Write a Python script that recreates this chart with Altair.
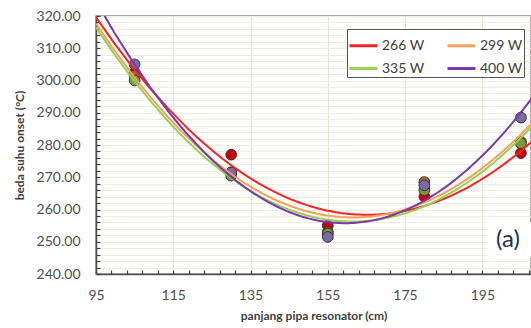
import altair as alt
import pandas as pd

# ---- data ----
x_vals = [105, 130, 155, 180, 205]
series_names = ["266 W", "299 W", "335 W", "400 W"]
y_266 = [302.5, 277.0, 255.0, 264.0, 277.5]
y_299 = [301.5, 271.5, 253.0, 268.5, 281.0]
y_335 = [300.0, 270.5, 252.5, 266.0, 280.5]
y_400 = [305.0, 271.5, 251.5, 267.5, 288.5]

line_colors = ["#f42424", "#f7a060", "#98d055", "#7a3aa8"]
point_colors = ["#cc0000", "#a86a3a", "#7a9a40", "#7d68a8"]

x_major = [95, 115, 135, 155, 175, 195]
x_minor = list(range(95, 208, 4))
y_grid = list(range(240, 321, 2))

rows = []
for name, ys in zip(series_names, [y_266, y_299, y_335, y_400]):
    for xv, yv in zip(x_vals, ys):
        rows.append({"series": name, "x": xv, "y": yv})
df = pd.DataFrame(rows)

FONT = "Lato"
xdom = [95, 207.6]
ydom = [240, 320]

xscale = alt.Scale(domain=xdom, nice=False, zero=False)
yscale = alt.Scale(domain=ydom, nice=False, zero=False)

base = alt.Chart(df)

points = base.mark_point(
    filled=True, size=115, opacity=1, stroke="#333333", strokeWidth=1, clip=True
).encode(
    x=alt.X("x:Q", scale=xscale, axis=alt.Axis(
        orient="bottom",
        values=x_major, grid=True, gridColor="#e7e3d3", gridWidth=1,
        ticks=False, labelPadding=14, labelFont=FONT, labelFontSize=14,
        labelColor="#505050", domainColor="#505050", domainWidth=1.5,
        title="panjang pipa resonator (cm)", titleFont=FONT, titleFontSize=12,
        titleFontWeight="bold", titleColor="#404040", titlePadding=8,
        labelFlush=False)),
    y=alt.Y("y:Q", scale=yscale, axis=alt.Axis(
        orient="left",
        values=y_grid,
        labelExpr="datum.value % 10 === 0 ? format(datum.value, '.2f') : ''",
        labelOverlap=False, grid=True, gridColor="#f0ecdf", gridWidth=1,
        ticks=False, labelPadding=16, labelFont=FONT, labelFontSize=14,
        labelColor="#505050", domainColor="#505050", domainWidth=1.5,
        title="beda suhu onset (°C)", titleFont=FONT, titleFontSize=12,
        titleFontWeight="bold", titleColor="#404040", titlePadding=10,
        labelFlush=False)),
    fill=alt.Fill("series:N", scale=alt.Scale(domain=series_names, range=point_colors), legend=None),
)

lines = base.transform_regression(
    "x", "y", groupby=["series"], method="poly", order=2, extent=[95, 212]
).mark_line(strokeWidth=2, clip=True).encode(
    x=alt.X("x:Q", scale=xscale, axis=None),
    y=alt.Y("y:Q", scale=yscale, axis=None),
    color=alt.Color("series:N", scale=alt.Scale(domain=series_names, range=line_colors),
                    legend=alt.Legend(
                        orient="none", legendX=251, legendY=13, columns=2,
                        direction="horizontal",
                        symbolType="stroke", symbolSize=784, symbolStrokeWidth=3,
                        labelFont=FONT, labelFontSize=14, labelColor="#404040",
                        strokeColor="#555555", fillColor="white", padding=1,
                        rowPadding=-22, columnPadding=16, title=None, labelOffset=3)),
)

minor_ticks = base.mark_point(opacity=0).encode(
    x=alt.X("x:Q", scale=xscale, axis=alt.Axis(
        orient="top", offset=-258, values=x_minor, tickSize=4, tickWidth=1.2,
        tickColor="#404040", labels=False, domain=False, grid=False, title=None)),
    y=alt.Y("y:Q", scale=yscale, axis=alt.Axis(
        orient="right", offset=-435, values=y_grid, tickSize=4, tickWidth=1.2,
        tickColor="#404040", labels=False, domain=False, grid=False, title=None)),
)

label_box = alt.Chart(pd.DataFrame({"t": ["(a)"]})).mark_rect(color="white").encode(
    x=alt.value(392), x2=alt.value(440), y=alt.value(206), y2=alt.value(242)
)
label_a = alt.Chart(pd.DataFrame({"t": ["(a)"]})).mark_text(
    font=FONT, fontSize=24, color="#1f3050", align="center", baseline="middle"
).encode(text="t:N", x=alt.value(412), y=alt.value(224))

chart = alt.layer(points, minor_ticks, label_box, label_a, lines).resolve_axis(
    x="independent", y="independent"
).resolve_scale(fill="independent").properties(
    width=435, height=258,
    autosize=alt.AutoSizeParams(type="none"),
    padding={"left": 96, "top": 16, "right": 0, "bottom": 54},
    background="white",
).configure_view(stroke="#8c8c8c", strokeWidth=1.5)

chart.save("out.html", embed_options={"renderer": "svg", "actions": False})
